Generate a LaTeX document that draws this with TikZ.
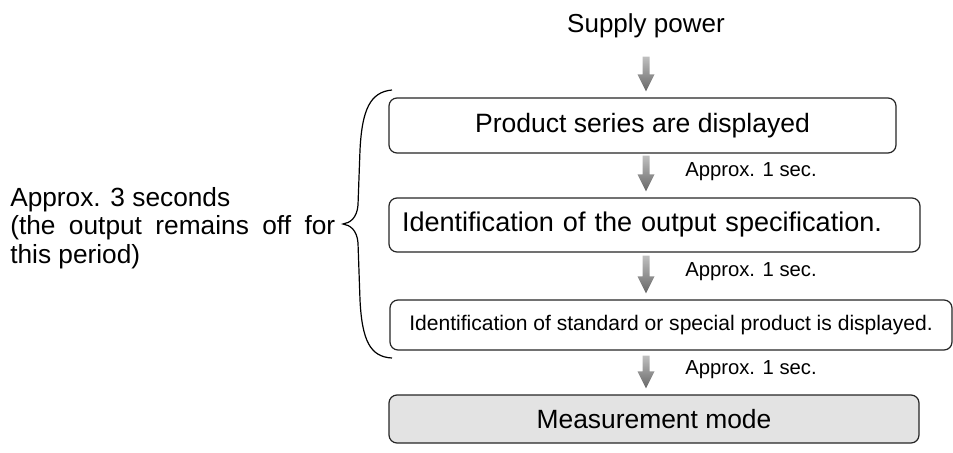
\documentclass[tikz,border=0pt]{standalone}
\usepackage{fontspec}
\setmainfont{Liberation Sans}
\usetikzlibrary{positioning, calc}

\begin{document}
\begin{tikzpicture}[
    x=0.75pt, y=-0.75pt,
    flowbox/.style={
        rectangle,
        rounded corners=6pt,
        draw=black!85,
        line width=0.9pt,
        fill=white,
        inner sep=0pt,
        align=center
    },
    flowarrow/.style={
        top color=black!25,
        bottom color=black!60
    },
    timenote/.style={
        anchor=west,
        inner sep=0pt,
        font=\fontsize{15.2}{18}\selectfont
    }
]
\useasboundingbox (0,0) rectangle (953,453);

% Start
\node[anchor=base, inner sep=0pt, font=\fontsize{19.5}{23}\selectfont] (supply) at (646,33) {Supply power};

% Steps
\node[flowbox, minimum width=380.25pt, minimum height=41.25pt,
      font=\fontsize{19.9}{23}\selectfont] (prod) at (642.5,125.5) {Product series are displayed};
\node[flowbox, minimum width=398.25pt, minimum height=40.5pt, text width=378.75pt,
      inner xsep=9.75pt, align=left,
      font=\fontsize{20.3}{23}\selectfont] (ident) at (654.5,225) {Identification of the output specification.};
\node[flowbox, minimum width=421.5pt, minimum height=37.5pt,
      font=\fontsize{15.8}{18}\selectfont] (stdspec) at (671,325) {Identification of standard or special product is displayed.};
\node[flowbox, fill=black!11, minimum width=397.5pt, minimum height=36pt,
      font=\fontsize{19.8}{23}\selectfont] (meas) at (654,419) {Measurement mode};

% Arrows between the steps
\coordinate (axis) at (646,0);
\foreach \from/\to/\gap in {supply/prod/18, prod/ident/2, ident/stdspec/3, stdspec/meas/5} {
    \path (\from.south -| axis) ++(0,\gap) coordinate (s);
    \path (\to.north -| axis) ++(0,-6) coordinate (t);
    \shade[flowarrow] ($(s)+(-3.5,0)$) -- ($(s)+(3.5,0)$) -- ($(t)+(3.5,-17)$)
        -- ($(t)+(8.5,-17)$) -- (t) -- ($(t)+(-8.5,-17)$) -- ($(t)+(-3.5,-17)$) -- cycle;
}

% Timing labels
\node[timenote] (t1) at (685,172) {Approx. 1 sec.};
\node[timenote] (t2) at (685,272) {Approx. 1 sec.};
\node[timenote] (t3) at (685,370) {Approx. 1 sec.};

% Brace and note
\draw[line width=0.9pt] (392,90) .. controls (370,92) and (362,110) .. (360,150)
    -- (358,205) .. controls (357,218) and (350,223) .. (343,224)
    .. controls (350,225) and (357,230) .. (358,243)
    -- (360,300) .. controls (362,340) and (370,357) .. (392,358);
\node[anchor=north west, inner sep=0pt, text width=243.75pt, align=justify,
      font=\fontsize{19.7}{21.4}\selectfont] (note) at (10,187)
    {Approx. 3 seconds\\(the output remains off for\linebreak this period)};

\end{tikzpicture}
\end{document}
